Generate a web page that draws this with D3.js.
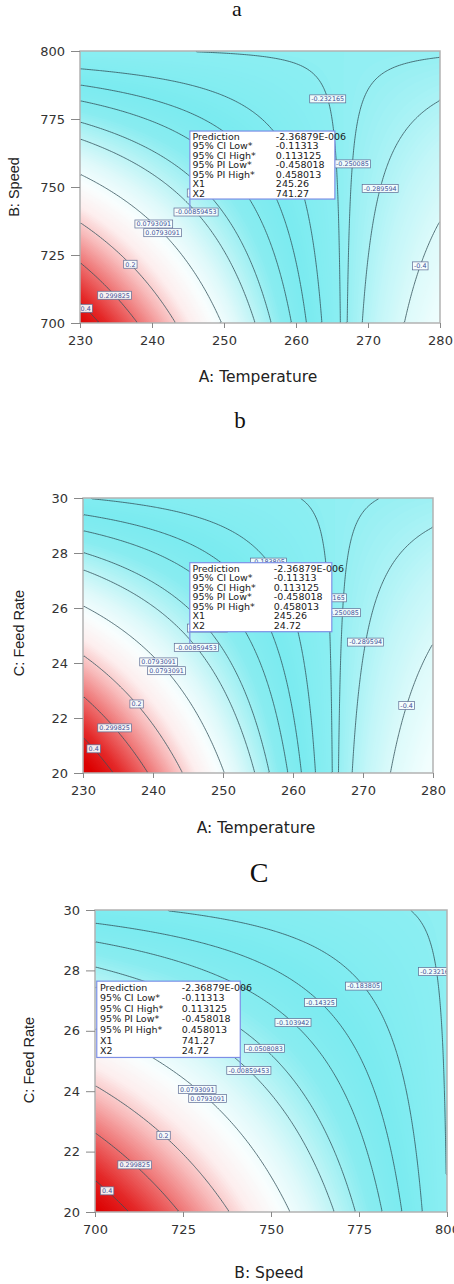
<!DOCTYPE html>
<html lang="en">
<head>
    <meta charset="utf-8">
    <title>Response surface contour plots</title>
    <style>
        body {
            margin: 0;
            background: #fff;
        }

        svg {
            display: block;
        }

        .tick text {
            font-family: "DejaVu Sans", sans-serif;
            font-size: 13px;
            fill: #333;
        }

        .tick line {
            stroke: #888;
        }

        .axis-title {
            font-family: "DejaVu Sans", sans-serif;
            font-size: 15.5px;
            fill: #222;
        }

        .axis-title-v {
            font-family: "Liberation Sans", Arial, sans-serif;
            font-size: 14.5px;
            fill: #222;
        }

        .panel-title {
            font-family: "Liberation Serif", "Times New Roman", serif;
            fill: #111;
        }

        .clabel text {
            font-family: "DejaVu Sans", sans-serif;
            font-size: 6.4px;
            fill: #43539a;
        }

        .pred text {
            font-family: "DejaVu Sans", sans-serif;
            font-size: 9.5px;
            fill: #1a1a1a;
        }
    </style>
</head>
<body>

<svg width="454" height="1284"></svg>

<script src="https://d3js.org/d3.v7.min.js"></script>
<script>

    // ---- data ----

    // factor ranges and ticks
    const tempRange = [230, 280];
    const speedRange = [700, 800];
    const feedRange = [20, 30];
    const tempTicks = [230, 240, 250, 260, 270, 280];
    const speedTicks = [700, 725, 750, 775, 800];
    const feedTicks = [20, 22, 24, 26, 28, 30];

    // contour levels drawn on the plots, with their printed labels
    const levels = [0.4, 0.299825, 0.2, 0.0793091, -0.00859453, -0.0508083, -0.103942,
        -0.14325, -0.183805, -0.232165, -0.250085, -0.289594, -0.4];
    const levelText = ["0.4", "0.299825", "0.2", "0.0793091", "-0.00859453", "-0.0508083", "-0.103942",
        "-0.14325", "-0.183805", "-0.232165", "-0.250085", "-0.289594", "-0.4"];

    // fitted surface in coded units (-1..1): [intercept, x, y, x*y]
    const coefAB = [-0.1288, -0.2401, -0.1074, 0.232];
    const coefAC = [-0.1203, -0.2721, -0.1025, 0.233];
    const coefBC = [-0.0440, -0.1921, -0.1612, 0.158];

    // prediction flag
    const predNames = ["Prediction", "95% CI Low*", "95% CI High*", "95% PI Low*", "95% PI High*", "X1", "X2"];
    const predValues = ["-2.36879E-006", "-0.11313", "0.113125", "-0.458018", "0.458013"];
    const pointAB = [245.26, 741.27];
    const pointAC = [245.26, 24.72];
    const pointBC = [741.27, 24.72];

    // contour labels: [level index, y value where the label sits on its line]
    const labelsAB = [[9, 782.4], [10, 758.5], [11, 749.5], [12, 721], [5, 747.8], [4, 740.8],
        [3, 736.4], [3, 733.2], [2, 721.6], [1, 710.2], [0, 705.4]];
    const labelsAC = [[8, 27.67], [9, 26.37], [10, 25.83], [11, 24.76], [12, 22.45], [5, 25.27],
        [4, 24.57], [3, 24.04], [3, 23.72], [2, 22.51], [1, 21.64], [0, 20.88]];
    const labelsBC = [[9, 27.96], [8, 27.48], [7, 26.94], [6, 26.27], [5, 25.42], [4, 24.69],
        [3, 24.06], [3, 23.76], [2, 22.54], [1, 21.56], [0, 20.7]];

    // ---- styling ----
    const shade = d3.scaleLinear()
        .domain([-0.50, -0.40, -0.33, -0.27, -0.23, -0.15, -0.08, -0.02, 0.04, 0.10, 0.16, 0.22, 0.30, 0.38, 0.46])
        .range(["#f2fefe", "#dcfafa", "#c2f6f8", "#a2f1f4", "#8aeef2", "#7aebf0", "#88ecf0", "#b6f3f5",
            "#dff9fa", "#f9fefe", "#fdeeee", "#f8bcbc", "#ee7070", "#e42828", "#dc0000"])
        .clamp(true);

    const svg = d3.select("svg");

    const panels = [
        {
            key: "a", title: "a", titleX: 237, titleY: 16, titleSize: 22,
            frame: {left: 80, right: 440, top: 51, bottom: 323},
            xDomain: tempRange, yDomain: speedRange, xTicks: tempTicks, yTicks: speedTicks,
            coef: coefAB, point: pointAB, labels: labelsAB,
            xTitle: "A: Temperature", xTitlePos: [258, 376],
            yTitle: "B: Speed", yTitlePos: [14, 187],
            pred: {side: "right", w: 145, h: 68, gap: 11.7, first: 5.3, step: 9.5, col1: 2.7, col2: 86}
        },
        {
            key: "b", title: "b", titleX: 240, titleY: 428, titleSize: 23,
            frame: {left: 83, right: 433, top: 498, bottom: 773},
            xDomain: tempRange, yDomain: feedRange, xTicks: tempTicks, yTicks: feedTicks,
            coef: coefAC, point: pointAC, labels: labelsAC,
            xTitle: "A: Temperature", xTitlePos: [256, 827],
            yTitle: "C: Feed Rate", yTitlePos: [19, 633],
            pred: {side: "right", w: 142, h: 69, gap: 11.5, first: 5.6, step: 9.55, col1: 2.7, col2: 84}
        },
        {
            key: "c", title: "C", titleX: 259, titleY: 882, titleSize: 28,
            frame: {left: 95, right: 447, top: 910, bottom: 1212},
            xDomain: speedRange, yDomain: feedRange, xTicks: speedTicks, yTicks: feedTicks,
            coef: coefBC, point: pointBC, labels: labelsBC,
            xTitle: "B: Speed", xTitlePos: [269, 1272],
            yTitle: "C: Feed Rate", yTitlePos: [29, 1060],
            pred: {side: "left", w: 143.5, h: 76.3, gap: 12, first: 6, step: 10.6, col1: 3.3, col2: 85}
        }
    ];

    panels.forEach(drawPanel);

    function drawPanel(p) {
        const {left, right, top, bottom} = p.frame;
        const w = right - left, h = bottom - top;

        const x = d3.scaleLinear().domain(p.xDomain).range([left, right]);
        const y = d3.scaleLinear().domain(p.yDomain).range([bottom, top]);
        const cu = d3.scaleLinear().domain(p.xDomain).range([-1, 1]);
        const cv = d3.scaleLinear().domain(p.yDomain).range([-1, 1]);
        const [b0, b1, b2, b12] = p.coef;
        const f = (a, b) => {
            const u = cu(a), v = cv(b);
            return b0 + b1 * u + b2 * v + b12 * u * v;
        };

        // sample the surface on a grid (cell centres)
        const nx = 200, ny = 160;
        const grid = new Array(nx * ny);
        for (let j = 0; j < ny; j++) {
            for (let i = 0; i < nx; i++) {
                grid[j * nx + i] = f(x.invert(left + (i + 0.5) * w / nx), y.invert(top + (j + 0.5) * h / ny));
            }
        }
        const gx = d3.scaleLinear().domain([0, nx]).range([left, right]);
        const gy = d3.scaleLinear().domain([0, ny]).range([top, bottom]);
        const path = d3.geoPath(d3.geoTransform({
            point(a, b) { this.stream.point(gx(a), gy(b)); }
        }));

        const clipId = "clip-" + p.key;
        svg.append("clipPath").attr("id", clipId)
            .append("rect")
            .attr("x", left).attr("y", top).attr("width", w).attr("height", h);

        const plot = svg.append("g").attr("clip-path", `url(#${clipId})`);

        // smooth colour shading: many thin filled bands
        const step = 0.005;
        const bands = d3.range(-0.52, 0.5, step);
        plot.append("g")
            .selectAll("path")
            .data(d3.contours().size([nx, ny]).thresholds(bands)(grid))
            .join("path")
            .attr("d", path)
            .attr("fill", d => shade(d.value + step / 2));

        // contour lines, without the pieces running along the frame
        const onEdge = pt => pt[0] <= 1e-9 || pt[0] >= nx - 1e-9 || pt[1] <= 1e-9 || pt[1] >= ny - 1e-9;
        const lineOf = geom => {
            let d = "";
            geom.coordinates.forEach(poly => poly.forEach(ring => {
                let pen = false;
                for (let k = 1; k < ring.length; k++) {
                    const a = ring[k - 1], b = ring[k];
                    if (onEdge(a) && onEdge(b)) {
                        pen = false;
                        continue;
                    }
                    if (!pen) {
                        d += `M${gx(a[0]).toFixed(2)},${gy(a[1]).toFixed(2)}`;
                        pen = true;
                    }
                    d += `L${gx(b[0]).toFixed(2)},${gy(b[1]).toFixed(2)}`;
                }
            }));
            return d;
        };

        plot.append("g")
            .selectAll("path")
            .data(d3.contours().size([nx, ny]).thresholds(levels)(grid))
            .join("path")
            .attr("d", lineOf)
            .attr("fill", "none")
            .attr("stroke", "#33525a")
            .attr("stroke-width", 0.8);

        // labels sit on their contour: solve the model for x at the given y
        const labelX = d => {
            const v = cv(d[1]);
            const u = (levels[d[0]] - b0 - b2 * v) / (b1 + b12 * v);
            return x(cu.invert(u));
        };
        const lab = plot.append("g")
            .attr("class", "clabel")
            .selectAll("g")
            .data(p.labels)
            .join("g")
            .attr("transform", d => `translate(${labelX(d)},${y(d[1])})`);
        lab.append("text")
            .attr("text-anchor", "middle")
            .attr("dy", "0.36em")
            .text(d => levelText[d[0]]);
        lab.each(function () {
            const g = d3.select(this);
            const tw = g.select("text").node().getComputedTextLength();
            g.insert("rect", "text")
                .attr("x", -tw / 2 - 1.6)
                .attr("y", -4)
                .attr("width", tw + 3.2)
                .attr("height", 8)
                .attr("fill", "#f7fdfd")
                .attr("fill-opacity", 0.92)
                .attr("stroke", "#5d6b93")
                .attr("stroke-width", 0.7);
        });

        // frame
        svg.append("rect")
            .attr("x", left).attr("y", top).attr("width", w).attr("height", h)
            .attr("fill", "none")
            .attr("stroke", "#b2b2b2")
            .attr("stroke-width", 1.5);

        // axes
        svg.append("g")
            .attr("transform", `translate(0,${bottom})`)
            .call(d3.axisBottom(x).tickValues(p.xTicks).tickSize(5).tickPadding(7.5))
            .call(a => a.select(".domain").remove());
        svg.append("g")
            .attr("transform", `translate(${left},0)`)
            .call(d3.axisLeft(y).tickValues(p.yTicks).tickSize(9).tickPadding(6))
            .call(a => a.select(".domain").remove());

        svg.append("text")
            .attr("class", "axis-title")
            .attr("x", p.xTitlePos[0]).attr("y", p.xTitlePos[1])
            .attr("dy", "0.36em")
            .attr("text-anchor", "middle")
            .text(p.xTitle);
        svg.append("text")
            .attr("class", "axis-title-v")
            .attr("transform", `translate(${p.yTitlePos[0]},${p.yTitlePos[1]}) rotate(-90)`)
            .attr("dy", "0.36em")
            .attr("text-anchor", "middle")
            .text(p.yTitle);

        svg.append("text")
            .attr("class", "panel-title")
            .attr("x", p.titleX).attr("y", p.titleY)
            .attr("text-anchor", "middle")
            .style("font-size", p.titleSize + "px")
            .text(p.title);

        // prediction flag
        const q = p.pred;
        const px = x(p.point[0]), py = y(p.point[1]);
        const bx = q.side === "right" ? px : px - q.w;
        const by = py - q.gap - q.h;
        const pred = svg.append("g").attr("class", "pred");
        pred.append("rect")
            .attr("x", bx).attr("y", by).attr("width", q.w).attr("height", q.h)
            .attr("fill", "#fff")
            .attr("stroke", "#7d8fe6")
            .attr("stroke-width", 1.2);
        pred.append("line")
            .attr("x1", px).attr("x2", px)
            .attr("y1", by + q.h).attr("y2", py)
            .attr("stroke", "#7d8fe6")
            .attr("stroke-width", 1.2);
        const vals = predValues.concat(p.point.map(d3.format(".2f")));
        predNames.forEach((name, k) => {
            const ty = by + q.first + k * q.step;
            pred.append("text").attr("x", bx + q.col1).attr("y", ty).attr("dy", "0.36em").text(name);
            pred.append("text").attr("x", bx + q.col2).attr("y", ty).attr("dy", "0.36em").text(vals[k]);
        });
    }

</script>

</body>
</html>
